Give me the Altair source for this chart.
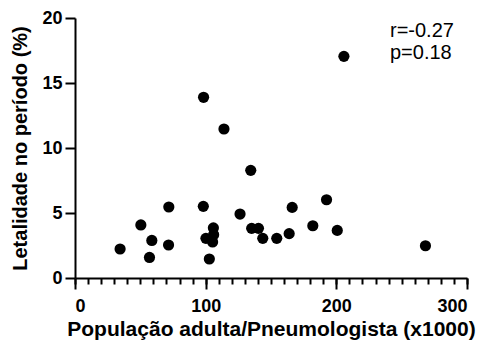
import altair as alt
import pandas as pd

pop = [34.5, 50.4, 58.8, 57.0, 71.8, 71.6, 98.4, 98.2, 100.2, 102.8, 105.9, 106.1, 105.3,
       114.0, 126.3, 134.5, 135.2, 140.4, 143.7, 154.4, 163.9, 166.2, 182.0, 192.5, 200.7,
       205.8, 268.2]
let = [2.23, 4.08, 2.89, 1.58, 5.46, 2.54, 13.9, 5.51, 3.05, 1.46, 3.85, 3.33, 2.77,
       11.46, 4.92, 8.28, 3.82, 3.82, 3.05, 3.05, 3.41, 5.43, 4.02, 6.02, 3.66,
       17.05, 2.48]
stats = ["r=-0.27", "p=0.18"]
x_major = [0, 100, 200, 300]
x_minor = list(range(0, 301, 10))
y_major = [0, 5, 10, 15, 20]

df = pd.DataFrame({"pop": pop, "let": let})
FONT = "Liberation Sans"
FS = 18

xscale = alt.Scale(domain=[0, 300], nice=False, zero=False)
yscale = alt.Scale(domain=[0, 20], nice=False)

minor = alt.Chart(pd.DataFrame({"v": x_minor})).mark_tick(opacity=0).encode(
    x=alt.X("v:Q", scale=xscale,
            axis=alt.Axis(values=x_minor, labels=False, title=None, domain=False,
                          orient="bottom", grid=False, tickColor="black",
                          tickWidth=2, tickSize=6)),
)

points = alt.Chart(df).mark_circle(size=125, color="black", opacity=1).encode(
    x=alt.X("pop:Q", scale=xscale,
            axis=alt.Axis(values=x_major, title="População adulta/Pneumologista (x1000)",
                          orient="bottom", format="d", grid=False,
                          domainColor="black", domainWidth=2,
                          tickColor="black", tickWidth=2, tickSize=11,
                          labelFont=FONT, labelFontWeight="bold", labelFontSize=FS,
                          labelColor="black", labelPadding=8,
                          titleFont=FONT, titleFontWeight="bold", titleFontSize=21,
                          titleColor="black", titlePadding=3)),
    y=alt.Y("let:Q", scale=yscale,
            axis=alt.Axis(values=y_major, title="Letalidade no período (%)",
                          format="d", grid=False, domainColor="black", domainWidth=2,
                          tickColor="black", tickWidth=2, tickSize=10,
                          labelFont=FONT, labelFontWeight="bold", labelFontSize=FS,
                          labelColor="black", labelPadding=3,
                          titleFont=FONT, titleFontWeight="bold", titleFontSize=20,
                          titleColor="black", titlePadding=11)),
)

txt_layers = []
for i, s in enumerate(stats):
    txt_layers.append(
        alt.Chart(pd.DataFrame({"t": [s]})).mark_text(
            align="left", baseline="alphabetic", font=FONT, fontSize=20, color="black"
        ).encode(x=alt.value(315), y=alt.value(19 + 22 * i), text="t:N")
    )

chart = alt.layer(minor, points, *txt_layers).resolve_scale(x="independent").properties(
    width=392, height=260,
    autosize=alt.AutoSizeParams(type="none"),
    padding={"left": 67, "top": 10, "right": 11, "bottom": 63},
).configure_view(stroke=None)

chart.save("out.html", embed_options={"renderer": "svg", "actions": False})
